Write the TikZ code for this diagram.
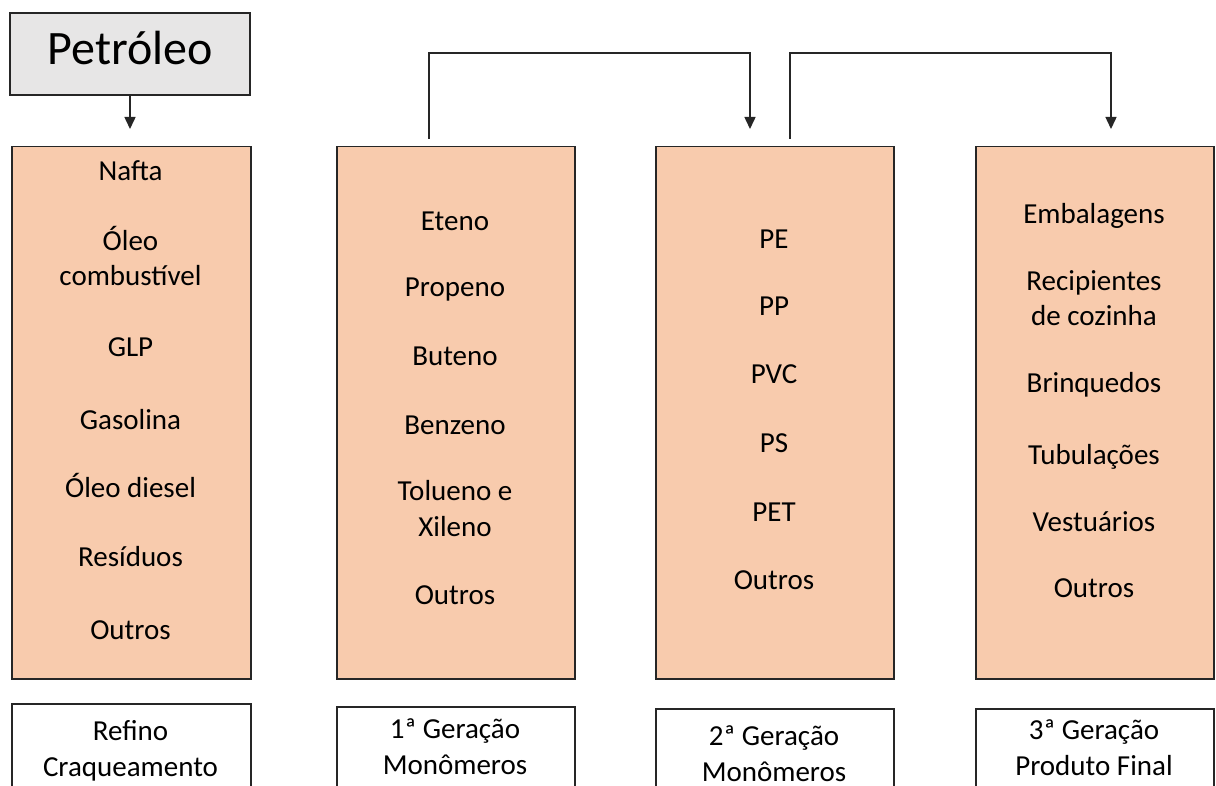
\documentclass[tikz,border=0pt]{standalone}
\usepackage{fontspec}
\setmainfont{Carlito}
\usetikzlibrary{arrows.meta}
\definecolor{orangefill}{HTML}{F8CBAD}
\definecolor{grayfill}{HTML}{E7E6E6}
\definecolor{linec}{HTML}{262626}
\begin{document}
\begin{tikzpicture}[x=1pt,y=-1pt,
  orangebox/.style={draw=linec, line width=1.5pt, fill=orangefill, minimum width=238pt, minimum height=532pt, inner sep=0pt, anchor=north west},
  whitebox/.style={draw=linec, line width=1.5pt, fill=white, minimum width=238pt, minimum height=110pt, inner sep=0pt, anchor=north west},
  topbox/.style={draw=linec, line width=1.5pt, fill=grayfill, minimum width=240pt, minimum height=82pt, inner sep=0pt, font=\fontsize{48}{58}\selectfont, text height=34pt, text depth=12pt},
  item/.style={font=\fontsize{29}{35.5}\selectfont, align=center, anchor=base, inner sep=0pt},
  conn/.style={draw=linec, line width=1.5pt},
  arr/.style={conn, -{Triangle[width=11pt,length=12pt]}}]
\path[use as bounding box] (0,0) rectangle (1216,786);
\clip (0,0) rectangle (1216,786);

% top box
\node[topbox] (pet) at (130,54) {Petróleo};

% orange boxes
\node[orangebox, minimum width=239pt] (b1) at (11,146) {};
\node[orangebox] (b2) at (336,146) {};
\node[orangebox] (b3) at (655,146) {};
\node[orangebox] (b4) at (975,146) {};

% white label boxes
\node[whitebox, minimum width=239pt] (w1) at (11,703) {};
\node[whitebox] (w2) at (336,706) {};
\node[whitebox] (w3) at (655,708) {};
\node[whitebox] (w4) at (975,708) {};

% box 1 items (anchor = baseline of last line)
\node[item] (n1a) at (130.5,181) {Nafta};
\node[item] (n1b) at (130.5,286) {Óleo\\combustível};
\node[item] (n1c) at (130.5,356) {GLP};
\node[item] (n1d) at (130.5,429) {Gasolina};
\node[item] (n1e) at (130.5,497) {Óleo diesel};
\node[item] (n1f) at (130.5,566) {Resíduos};
\node[item] (n1g) at (130.5,639) {Outros};

% box 2 items
\node[item] (n2a) at (455,231) {Eteno};
\node[item] (n2b) at (455,297) {Propeno};
\node[item] (n2c) at (455,366) {Buteno};
\node[item] (n2d) at (455,434) {Benzeno};
\node[item] (n2e) at (455,536) {Tolueno e\\Xileno};
\node[item] (n2f) at (455,604) {Outros};

% box 3 items
\node[item] (n3a) at (774,249) {PE};
\node[item] (n3b) at (774,316) {PP};
\node[item] (n3c) at (774,384) {PVC};
\node[item] (n3d) at (774,452) {PS};
\node[item] (n3e) at (774,521) {PET};
\node[item] (n3f) at (774,589) {Outros};

% box 4 items
\node[item] (n4a) at (1094,224) {Embalagens};
\node[item] (n4b) at (1094,326) {Recipientes\\de cozinha};
\node[item] (n4c) at (1094,392) {Brinquedos};
\node[item] (n4d) at (1094,464) {Tubulações};
\node[item] (n4e) at (1094,531) {Vestuários};
\node[item] (n4f) at (1094,597) {Outros};

% bottom labels
\node[item] (l1) at (130.5,776) {Refino\\Craqueamento};
\node[item] (l2) at (455,774) {1ª Geração\\Monômeros};
\node[item] (l3) at (774,781) {2ª Geração\\Monômeros};
\node[item] (l4) at (1094,775) {3ª Geração\\Produto Final};

% connectors
\coordinate (top) at (0,53);
\coordinate (a0) at (pet.south |- 0,129);
\coordinate (c1s) at (429,139);
\coordinate (c1e) at (750,129);
\coordinate (c2s) at (790,139);
\coordinate (c2e) at (1111,129);
\draw[arr] (pet.south) -- (a0);
\draw[arr] (c1s) -- (c1s |- top) -| (c1e);
\draw[arr] (c2s) -- (c2s |- top) -| (c2e);
\end{tikzpicture}
\end{document}
